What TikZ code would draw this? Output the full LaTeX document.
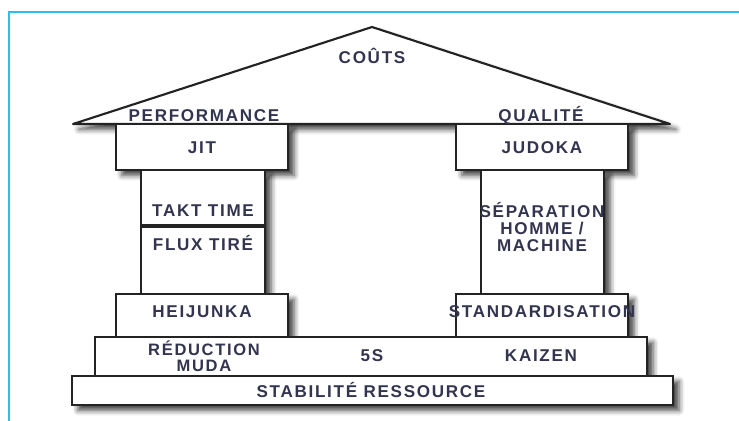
\documentclass[tikz,border=0pt]{standalone}
\usepackage{fontspec}
\setmainfont{Liberation Sans}
\newfontfamily\pillarfont[LetterSpace=10]{Liberation Sans}
\usetikzlibrary{shadows.blur}

\definecolor{frameblue}{RGB}{45,190,240}
\definecolor{linegray}{RGB}{35,35,35}
\definecolor{inkblue}{RGB}{50,52,80}

\tikzset{
  wall/.style={draw=linegray, line width=1.6pt, fill=white,
    blur shadow={shadow xshift=4.5pt, shadow yshift=-4pt,
      shadow blur radius=4pt, shadow opacity=75}},
  tag/.style={font=\pillarfont\bfseries\fontsize{12.8}{12.8}\selectfont,
    text=inkblue, align=center, inner sep=0pt},
}

\begin{document}
\begin{tikzpicture}[x=0.75pt, y=-0.75pt]
        \useasboundingbox (0,0) rectangle (739,421);

        % Frame of the page
        \draw[frameblue, line width=1.6pt] (9,421) -- (9,12) -- (739,12);

        % Draw the roof
        \draw[wall, line join=round] (73,124) -- (372,27) -- (670,124) -- cycle;

        % Draw the pillars (capital, shaft, base)
        \draw[wall] (116,124) rectangle (288,170);
        \draw[wall] (456,124) rectangle (628,170);
        \draw[wall] (141,170) rectangle (265,294);
        \draw[wall] (481,170) rectangle (604,294);
        \draw[linegray, line width=2.4pt] (141,226) -- (265,226);
        \draw[wall] (116,294) rectangle (288,337);
        \draw[wall] (456,294) rectangle (628,337);

        % Draw the steps
        \draw[wall] (95,337) rectangle (647,376);
        \draw[wall] (72,376) rectangle (673,405);

        % Define labels
        \node[tag] (couts) at (372,56) {COÛTS};
        \node[tag] (perf) at (204,116) {PERFORMANCE};
        \node[tag] (qual) at (541,116) {QUALITÉ};

        \node[tag] (jit) at (202,148) {JIT};
        \node[tag] (takt) at (203,211) {TAKT TIME};
        \node[tag] (flux) at (203,243) {FLUX TIRÉ};
        \node[tag] (heij) at (202,312) {HEIJUNKA};

        \node[tag] (judoka) at (542,148) {JUDOKA};
        \node[tag] (separ) at (542,227) {SÉPARATION\\HOMME /\\MACHINE};
        \node[tag] (stand) at (542,312) {STANDARDISATION};

        \node[tag, font=\pillarfont\bfseries\fontsize{12.4}{12}\selectfont] (muda) at (204,356) {RÉDUCTION\\MUDA};
        \node[tag] (fives) at (372,356) {5S};
        \node[tag] (kaizen) at (541,356) {KAIZEN};
        \node[tag] (stab) at (371,390) {STABILITÉ RESSOURCE};
    \end{tikzpicture}
\end{document}
